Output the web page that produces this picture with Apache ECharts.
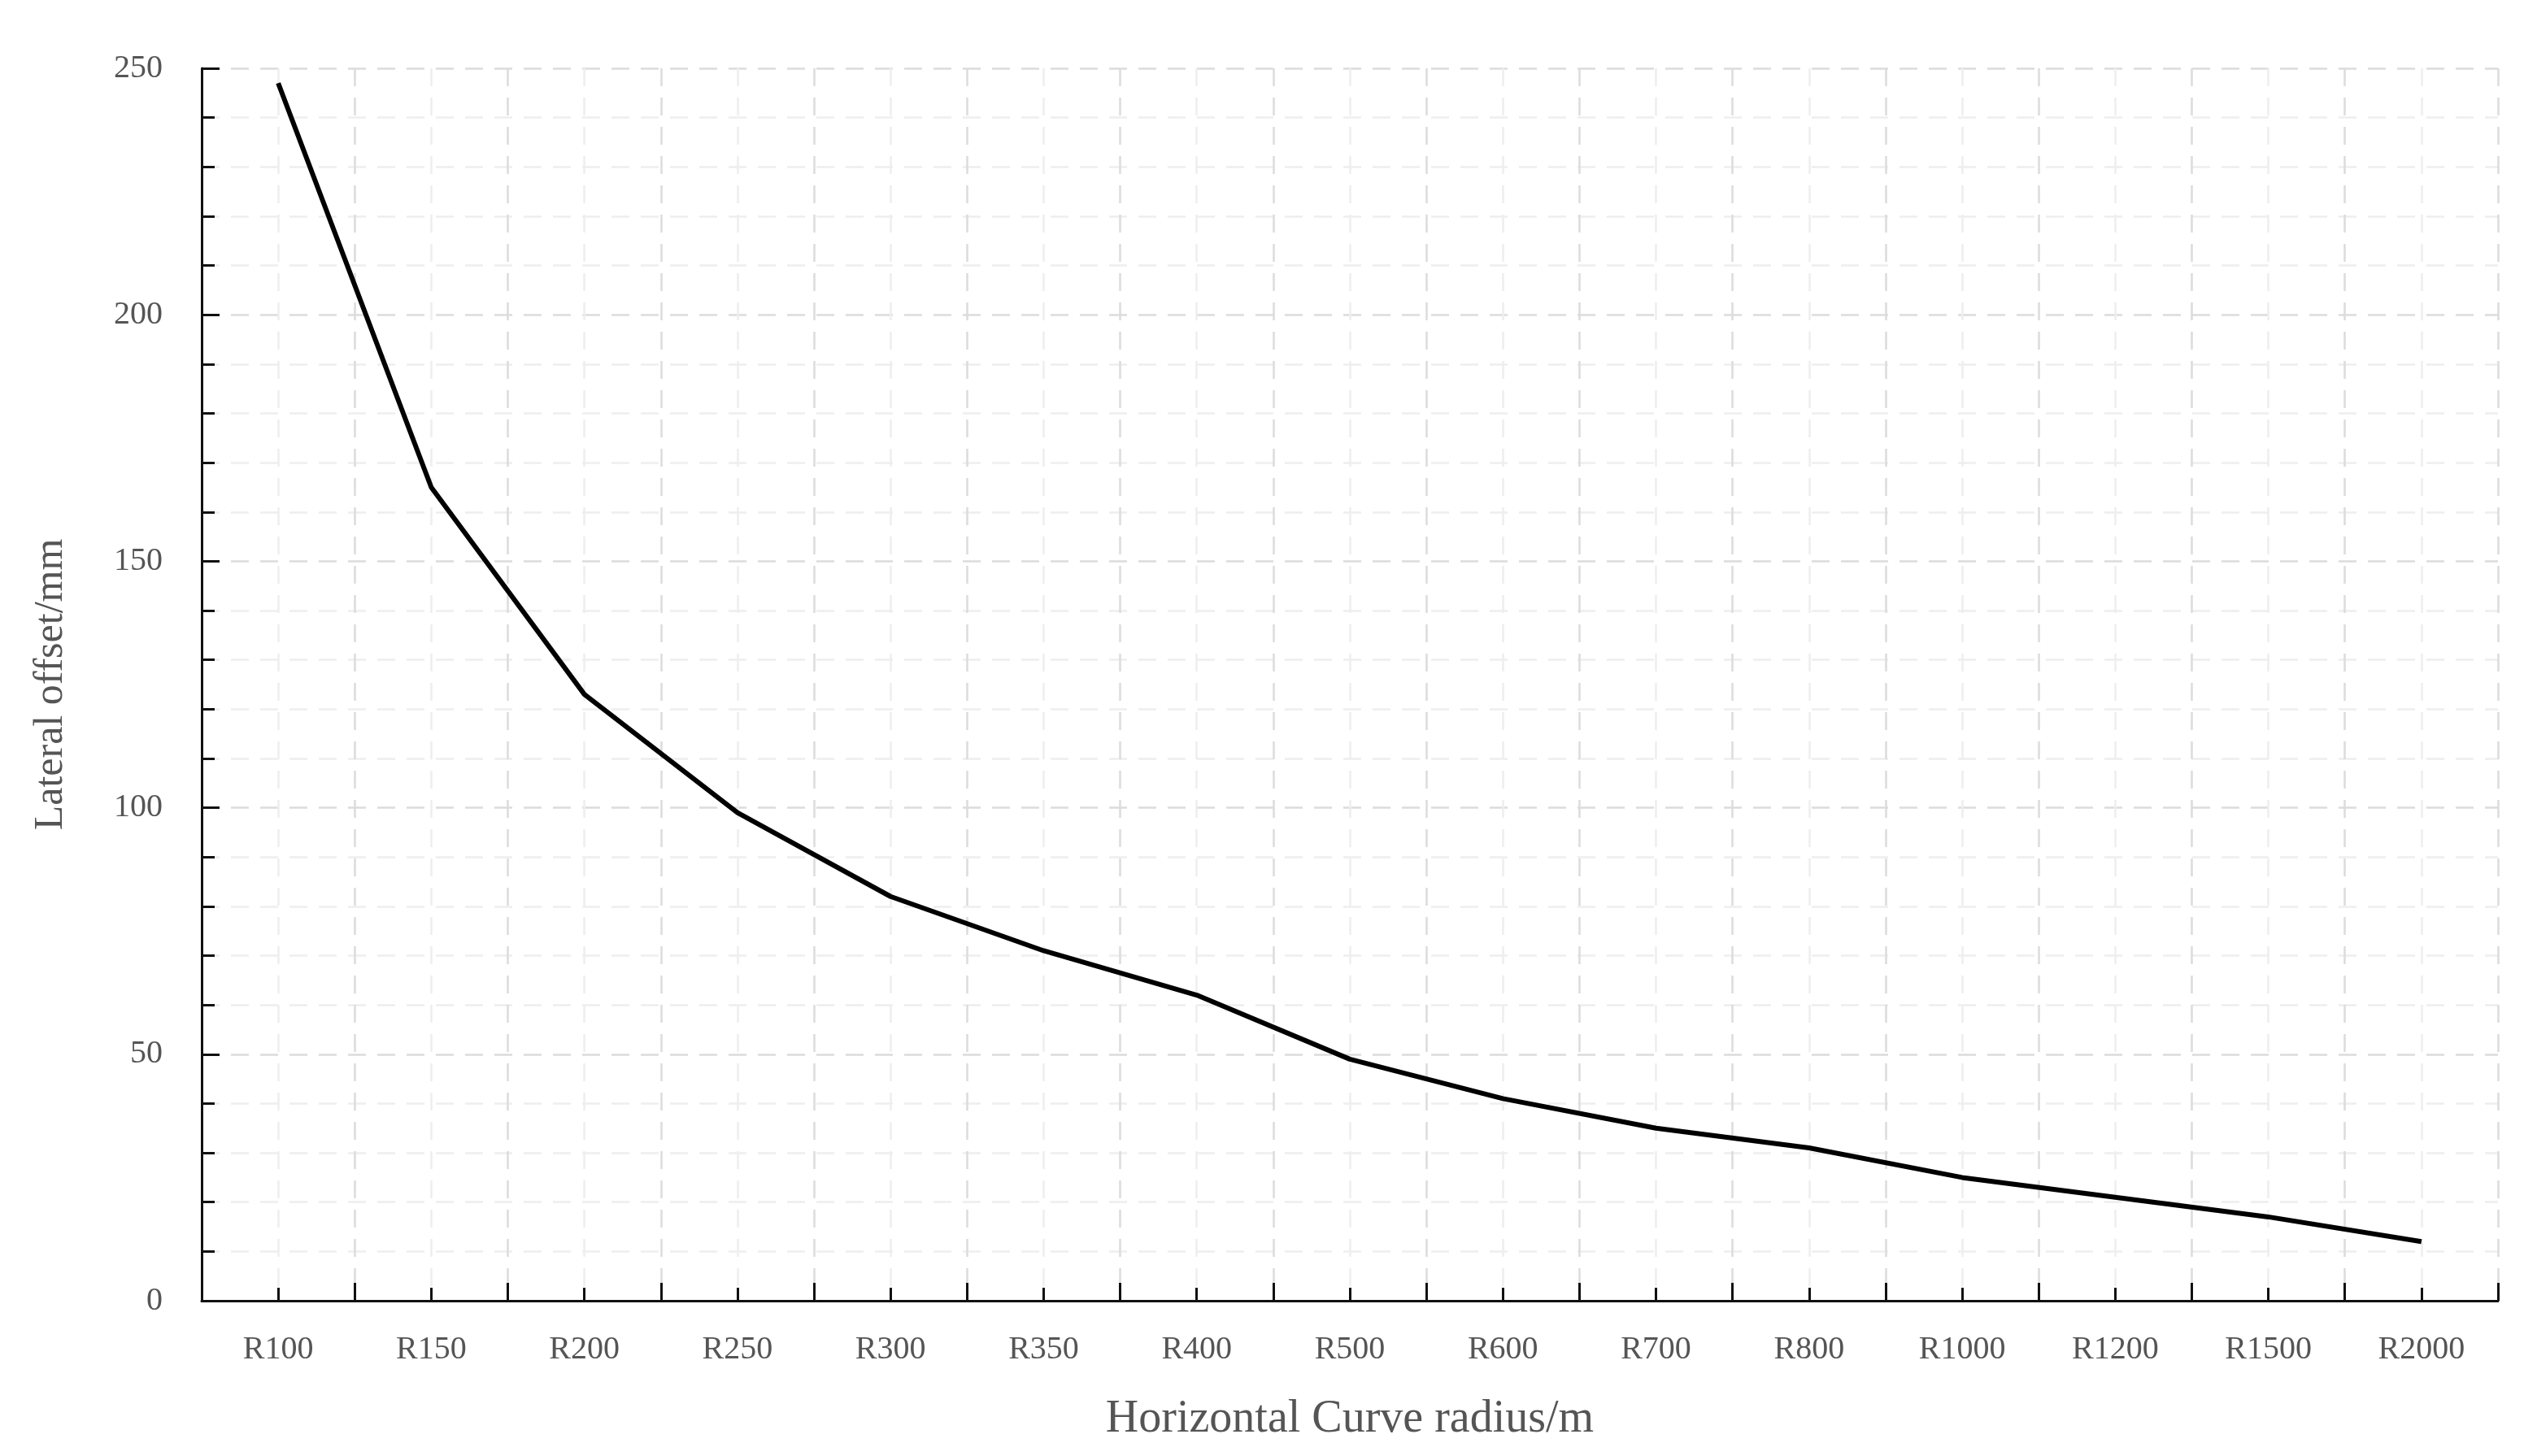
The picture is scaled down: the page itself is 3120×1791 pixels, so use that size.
<!DOCTYPE html>
<html><head><meta charset="utf-8">
<script src="https://cdn.jsdelivr.net/npm/echarts@6/dist/echarts.min.js"></script>
<style>html,body{margin:0;background:#fff}#c{width:3120px;height:1791px}</style>
</head><body><div id="c"></div>
<script>
const categories = ['R100','R150','R200','R250','R300','R350','R400','R500','R600','R700','R800','R1000','R1200','R1500','R2000'];
const offsets = [247,165,123,99,82,71,62,49,41,35,31,25,21,17,12];
const yTicks = [0,50,100,150,200,250];
const font = 'Liberation Serif';
const chart = echarts.init(document.getElementById('c'));
chart.setOption({
  backgroundColor:'#fff',
  grid:{left:248,right:48,top:84,bottom:191},
  xAxis:[
    {type:'value',min:0,max:categories.length,interval:1,position:'bottom',
     axisLine:{show:true,onZero:false,lineStyle:{color:'#111',width:3}},
     axisTick:{show:true,inside:true,length:22,lineStyle:{color:'#111',width:3}},
     minorTick:{show:true,splitNumber:2,length:16,lineStyle:{color:'#111',width:3}},
     axisLabel:{show:false},
     splitLine:{show:true,lineStyle:{color:'#dcdcdc',width:2.5,type:[22,14]}},
     minorSplitLine:{show:true,lineStyle:{color:'#eeeeee',width:2.5,type:[22,14]}}},
    {type:'category',data:categories,boundaryGap:true,position:'bottom',
     axisLine:{show:false},axisTick:{show:false},splitLine:{show:false},
     axisLabel:{color:'#555',fontFamily:font,fontSize:40,margin:40},
     name:'Horizontal Curve radius/m',nameLocation:'middle',nameGap:118,
     nameTextStyle:{color:'#555',fontFamily:font,fontSize:56}}
  ],
  yAxis:{type:'value',min:yTicks[0],max:yTicks[yTicks.length-1],interval:50,
     axisLine:{show:true,lineStyle:{color:'#111',width:3}},
     axisTick:{show:true,inside:true,length:22,lineStyle:{color:'#111',width:3}},
     minorTick:{show:true,splitNumber:5,length:16,lineStyle:{color:'#111',width:3}},
     axisLabel:{color:'#555',fontFamily:font,fontSize:40,margin:48},
     splitLine:{show:true,lineStyle:{color:'#dcdcdc',width:2.5,type:[22,14]}},
     minorSplitLine:{show:true,lineStyle:{color:'#eeeeee',width:2.5,type:[22,14]}},
     name:'Lateral offset/mm',nameLocation:'middle',nameGap:160,
     nameTextStyle:{color:'#555',fontFamily:font,fontSize:50}},
  series:[{type:'line',xAxisIndex:1,data:offsets,symbol:'none',
     lineStyle:{color:'#000',width:6},animation:false}]
});
</script></body></html>
